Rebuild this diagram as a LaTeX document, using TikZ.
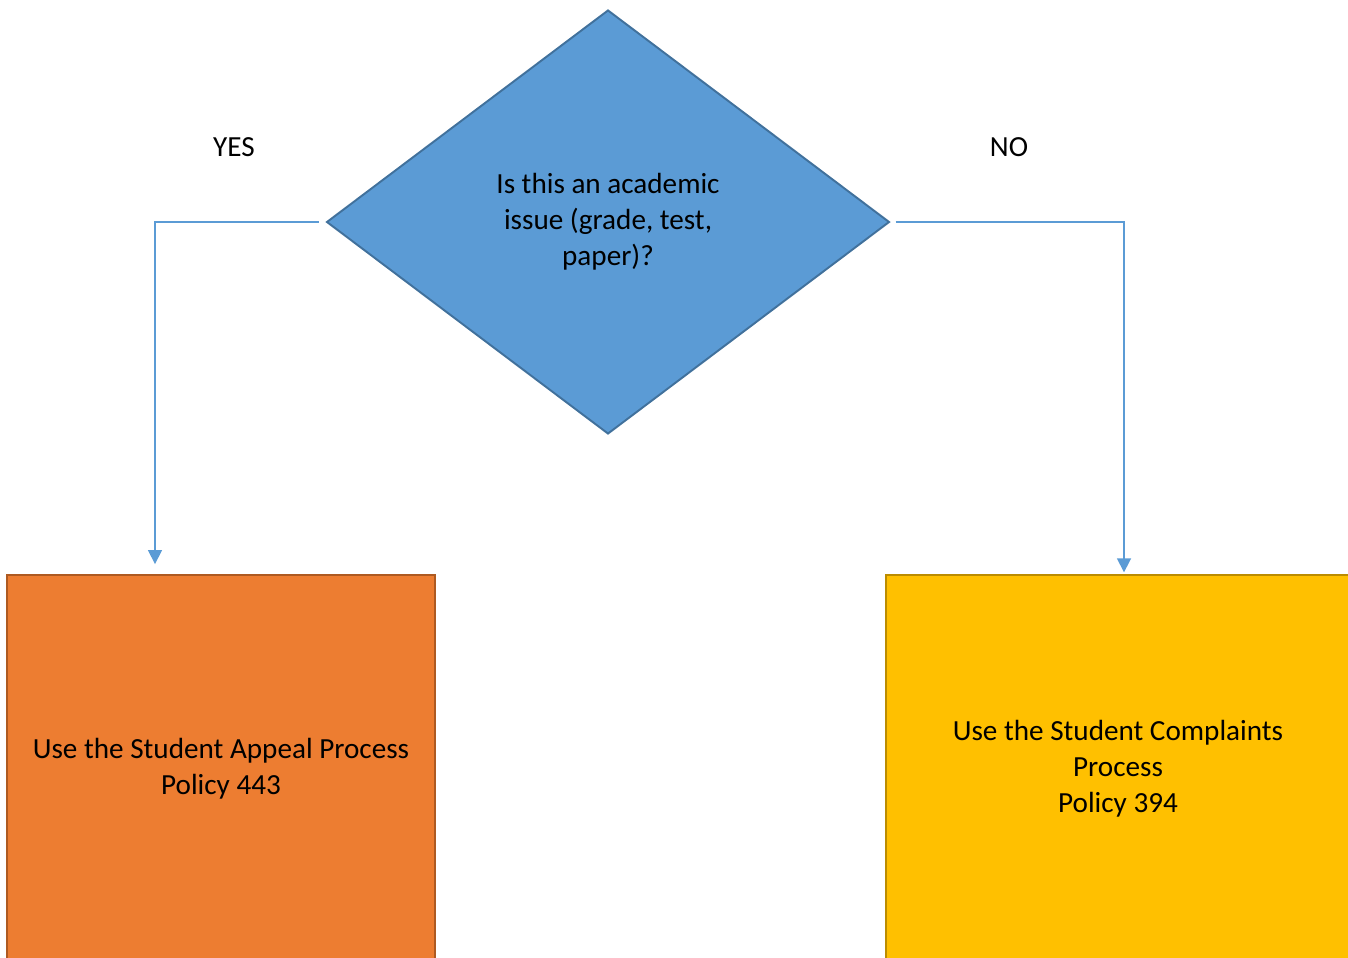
\documentclass[tikz,border=0pt]{standalone}
\usepackage{fontspec}
\setmainfont{Carlito}
\usetikzlibrary{shapes.geometric,arrows.meta}
\definecolor{qblue}{HTML}{5B9BD5}
\definecolor{qblueline}{HTML}{41719C}
\definecolor{appeal}{HTML}{ED7D31}
\definecolor{appealline}{HTML}{AE5A21}
\definecolor{complaint}{HTML}{FFC000}
\definecolor{complaintline}{HTML}{BC8C00}
\tikzset{
  question/.style={diamond, draw=qblueline, fill=qblue, line width=1.1pt, align=center,
    minimum width=11.26cm, minimum height=8.48cm, inner sep=0pt},
  outcome/.style={rectangle, line width=1.1pt, align=center, inner sep=0pt},
  link/.style={qblue, line width=0.9pt, -{Triangle[length=0.28cm, width=0.28cm]}}
}
\begin{document}
\begin{tikzpicture}[x=0.02cm, y=-0.02cm, font=\fontsize{16.6}{20.4}\selectfont]
            \useasboundingbox (0,0) rectangle (1348,957);

            \node[question] (acad) at (608,222) {Is this an academic\\issue (grade, test,\\paper)?};
            \node[outcome, draw=appealline, fill=appeal, minimum width=8.56cm, minimum height=7.76cm]
                (appeal) at (221,769) {Use the Student Appeal Process\\Policy 443};
            \node[outcome, draw=complaintline, fill=complaint, minimum width=9.28cm, minimum height=7.76cm]
                (compl) at (1118,769) {Use the Student Complaints\\Process\\Policy 394};

            \node (yes) at (234,147) {YES};
            \node (no) at (1009,147) {NO};

            \coordinate (yturn) at (155,222);
            \coordinate (nturn) at (1124,222);
            \draw[link, shorten <=4pt, shorten >=5.7pt] (acad.west) -- (yturn) -- (yturn |- appeal.north);
            \draw[link, shorten <=3pt, shorten >=1pt] (acad.east) -- (nturn) -- (nturn |- compl.north);
        \end{tikzpicture}
\end{document}
